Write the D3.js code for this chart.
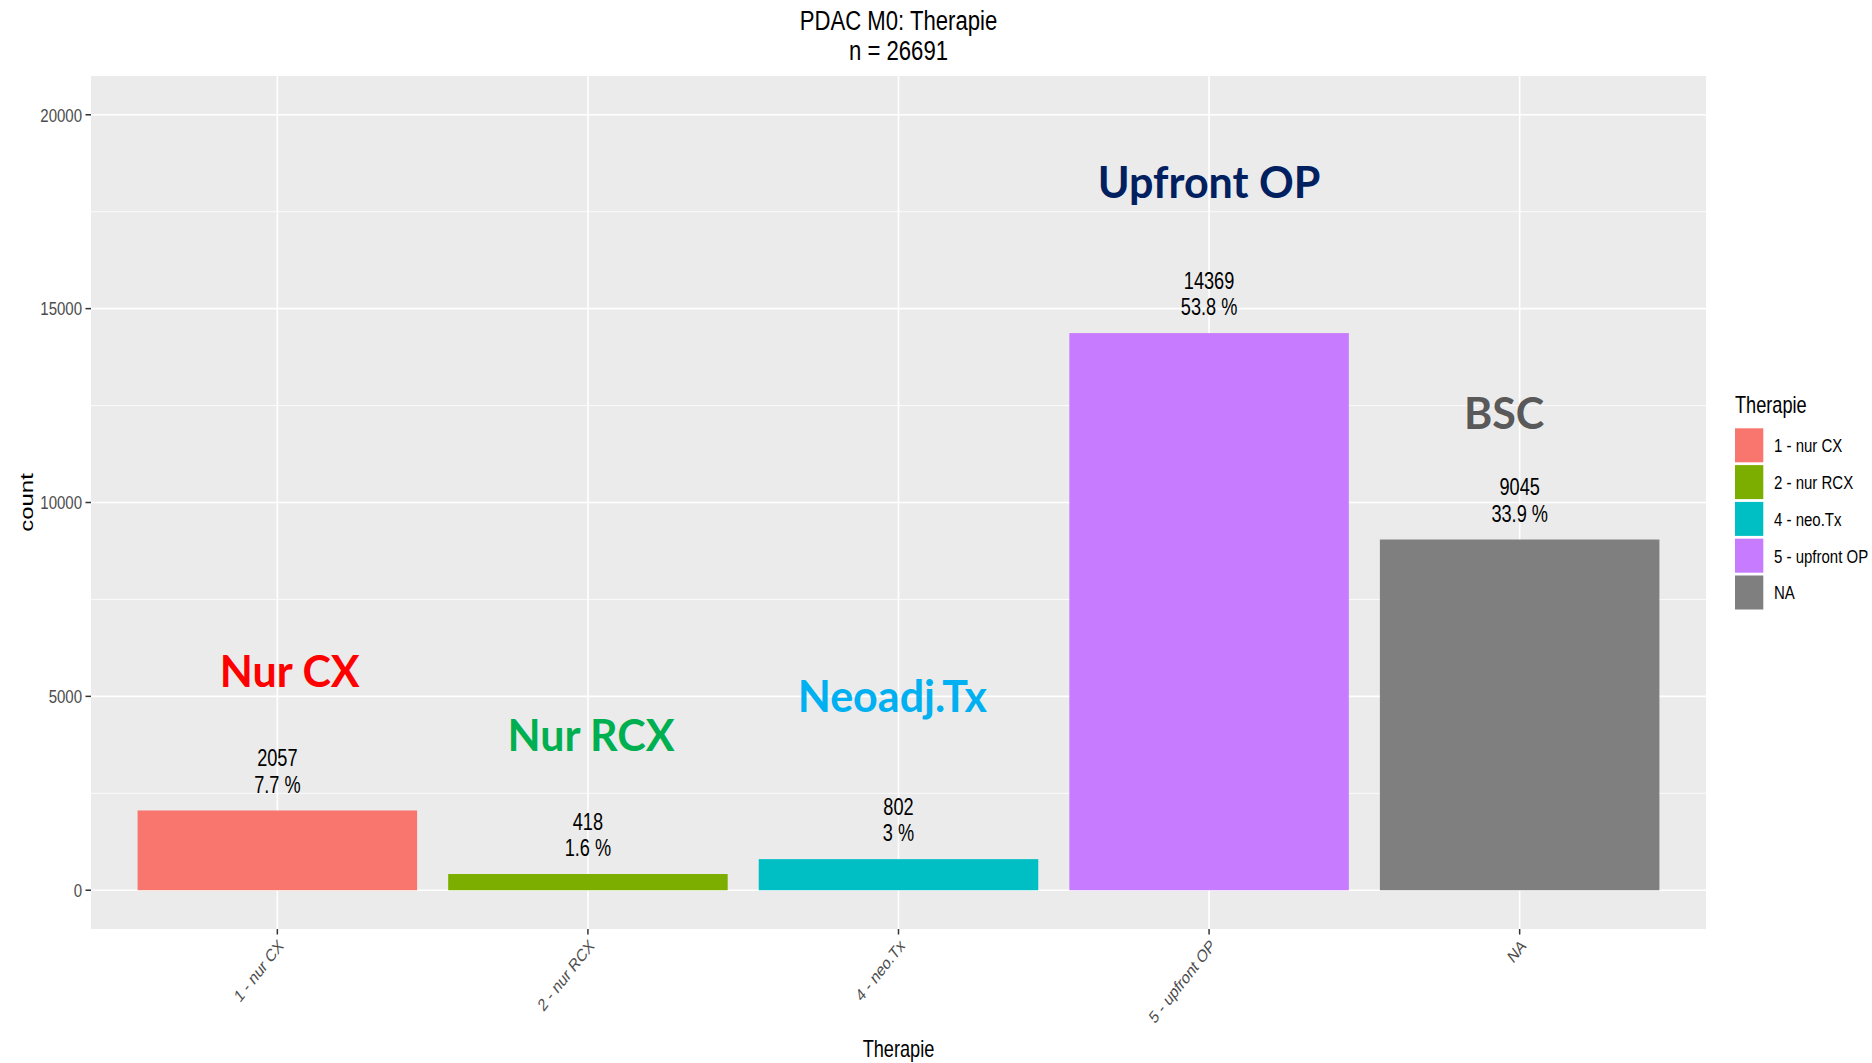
<!DOCTYPE html>
<html>
<head>
<meta charset="utf-8">
<script src="https://cdn.jsdelivr.net/npm/d3@7"></script>
<style>
  html, body { margin: 0; padding: 0; background: #fff; }
  svg { display: block; }
</style>
</head>
<body>
<svg id="chart" width="1872" height="1063"></svg>
<script>
// ---- data ----
const categories = ["1 - nur CX", "2 - nur RCX", "4 - neo.Tx", "5 - upfront OP", "NA"];
const counts = [2057, 418, 802, 14369, 9045];
const barColors = ["#F8766D", "#7CAE00", "#00BFC4", "#C77CFF", "#7F7F7F"];
const yTicks = [0, 5000, 10000, 15000, 20000];
const yMinorTicks = [2500, 7500, 12500, 17500];
const annoTexts = ["Nur CX", "Nur RCX", "Neoadj.Tx", "Upfront OP", "BSC"];
const annoX = [1.04, 2.01, 2.98, 4.0, 4.95];
const annoY = [5650, 4000, 5000, 18250, 12300];
const annoColors = ["#FF0000", "#00B050", "#00B0F0", "#002060", "#595959"];
const titleText = "PDAC M0: Therapie";
const xTitle = "Therapie";
const yTitle = "count";
const legendTitle = "Therapie";

// ---- layout ----
const SX = 0.79;   // horizontal squeeze of the original rendering
const panel = { left: 91, right: 1706, top: 76, bottom: 929 };
const svg = d3.select("#chart");
const total = d3.sum(counts);

const x = d3.scaleBand().domain(categories)
  .range([panel.left, panel.right]).paddingInner(0.1).paddingOuter(0.15);
const xc = d3.scaleLinear().domain([0.4, 5.6]).range([panel.left, panel.right]);
const y = d3.scaleLinear().domain([-1000, 21000]).range([panel.bottom, panel.top]);

function txt(parent, px, py, str, o) {
  const t = parent.append("text")
    .attr("transform", `translate(${px},${py}) scale(${o.sx ?? SX},1)` + (o.rot ? ` rotate(${o.rot})` : ""))
    .attr("font-family", o.family || "'Liberation Sans', Arial, sans-serif")
    .attr("font-size", o.size)
    .attr("font-weight", o.weight || "normal")
    .attr("fill", o.fill || "#000")
    .attr("text-anchor", o.anchor || "middle")
    .text(str);
  if (o.dy) t.attr("dy", o.dy);
  return t;
}

// panel background
svg.append("rect")
  .attr("x", panel.left).attr("y", panel.top)
  .attr("width", panel.right - panel.left).attr("height", panel.bottom - panel.top)
  .attr("fill", "#EBEBEB");

// grid
const grid = svg.append("g");
grid.selectAll("line.minor").data(yMinorTicks).enter().append("line")
  .attr("x1", panel.left).attr("x2", panel.right)
  .attr("y1", d => y(d)).attr("y2", d => y(d))
  .attr("stroke", "#fff").attr("stroke-width", 0.8);
grid.selectAll("line.majory").data(yTicks).enter().append("line")
  .attr("x1", panel.left).attr("x2", panel.right)
  .attr("y1", d => y(d)).attr("y2", d => y(d))
  .attr("stroke", "#fff").attr("stroke-width", 1.6);
grid.selectAll("line.majorx").data(categories).enter().append("line")
  .attr("x1", d => x(d) + x.bandwidth() / 2).attr("x2", d => x(d) + x.bandwidth() / 2)
  .attr("y1", panel.top).attr("y2", panel.bottom)
  .attr("stroke", "#fff").attr("stroke-width", 1.6);

// bars
svg.append("g").selectAll("rect").data(counts).enter().append("rect")
  .attr("x", (d, i) => x(categories[i]))
  .attr("width", x.bandwidth())
  .attr("y", d => y(d))
  .attr("height", d => y(0) - y(d))
  .attr("fill", (d, i) => barColors[i]);

// value labels
const lab = svg.append("g");
counts.forEach((v, i) => {
  const cx = x(categories[i]) + x.bandwidth() / 2;
  const base2 = y(v) - 17.7;
  const pct = +(v / total * 100).toFixed(1);
  txt(lab, cx, base2 - 26.5, String(v), { size: 23 });
  txt(lab, cx, base2, pct + " %", { size: 23 });
});

// annotations
const ann = svg.append("g");
annoTexts.forEach((s, i) => {
  txt(ann, xc(annoX[i]), y(annoY[i]), s, {
    size: 43, weight: "bold", family: "Lato, 'Open Sans', sans-serif",
    fill: annoColors[i], sx: 1.0, dy: "0.36em"
  });
});

// y axis
const yAxis = svg.append("g");
yAxis.selectAll("line").data(yTicks).enter().append("line")
  .attr("x1", panel.left - 5.5).attr("x2", panel.left)
  .attr("y1", d => y(d)).attr("y2", d => y(d))
  .attr("stroke", "#333").attr("stroke-width", 1.5);
yTicks.forEach(t => txt(yAxis, panel.left - 9, y(t), String(t), {
  size: 19, anchor: "end", fill: "#4D4D4D", dy: "0.36em"
}));

// x axis
const xAxis = svg.append("g");
xAxis.selectAll("line").data(categories).enter().append("line")
  .attr("x1", d => x(d) + x.bandwidth() / 2).attr("x2", d => x(d) + x.bandwidth() / 2)
  .attr("y1", panel.bottom).attr("y2", panel.bottom + 5.5)
  .attr("stroke", "#333").attr("stroke-width", 1.5);
categories.forEach(c => txt(xAxis, x(c) + x.bandwidth() / 2, panel.bottom + 9, c, {
  size: 17.5, anchor: "end", fill: "#4D4D4D", rot: -45, dy: "0.72em"
}));

// titles
txt(svg, (panel.left + panel.right) / 2, 30, titleText, { size: 28 });
txt(svg, (panel.left + panel.right) / 2, 60, "n = " + total, { size: 28 });
txt(svg, (panel.left + panel.right) / 2, 1057, xTitle, { size: 23 });
txt(svg, 33, (panel.top + panel.bottom) / 2, yTitle, { size: 24, rot: -90 });

// legend
const leg = svg.append("g");
const legX = 1735, legY0 = 428.3, legStep = 36.8, keyW = 28.3, keyH = 34;
txt(leg, legX, 413, legendTitle, { size: 23, anchor: "start" });
categories.forEach((c, i) => {
  const ky = legY0 + i * legStep;
  leg.append("rect").attr("x", legX).attr("y", ky)
    .attr("width", keyW).attr("height", keyH).attr("fill", barColors[i]);
  txt(leg, legX + 39, ky + keyH / 2, c, { size: 19, anchor: "start", dy: "0.36em" });
});
</script>
</body>
</html>
